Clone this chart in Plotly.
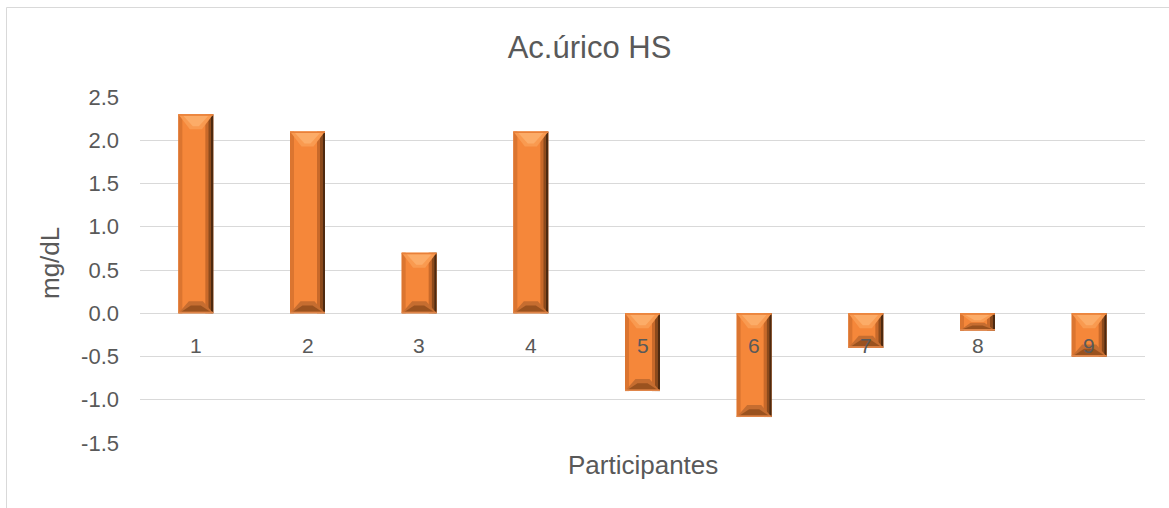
import plotly.graph_objects as go

# Data
labels = ["1", "2", "3", "4", "5", "6", "7", "8", "9"]
values = [2.3, 2.1, 0.7, 2.1, -0.9, -1.2, -0.4, -0.2, -0.5]
y_ticks = [-1.5, -1.0, -0.5, 0.0, 0.5, 1.0, 1.5, 2.0, 2.5]

# Layout geometry
W, H = 1169, 508
M_L, M_R, M_T, M_B = 140, 24, 97, 65
Y_MIN, Y_MAX = -1.5, 2.5
plot_w = W - M_L - M_R
plot_h = H - M_T - M_B
px_per_y = plot_h / (Y_MAX - Y_MIN)
px_per_x = plot_w / len(labels)
BAR_PX = 35
HALF = BAR_PX / 2

TEXT = "#595959"
GRID = "#D9D9D9"
FACE = "#F5873A"
FONT = "Liberation Sans, Arial"

xs = list(range(len(labels)))

fig = go.Figure(
    go.Bar(
        x=xs,
        y=values,
        width=BAR_PX / px_per_x,
        marker=dict(color=FACE, line=dict(width=0)),
        hoverinfo="x+y",
    )
)


def poly(xc, pts, color):
    """Filled polygon: x in pixels around the bar centre, y in data units."""
    d = "M " + " L ".join(f"{px},{py}" for px, py in pts) + " Z"
    return dict(
        type="path",
        xref="x", yref="y",
        xsizemode="pixel", xanchor=xc,
        path=d,
        fillcolor=color,
        line=dict(width=0),
        layer="above",
    )


# Bevelled look for each bar
shapes = []
for xc, v in zip(xs, values):
    top, bot = max(v, 0), min(v, 0)
    h_px = (top - bot) * px_per_y
    dt = min(15, h_px * 0.5) / px_per_y
    db = min(12, h_px * 0.45) / px_per_y
    e1 = 1.5 / px_per_y
    # side strips
    shapes.append(poly(xc, [(-HALF, top), (-HALF + 4, top), (-HALF + 4, bot), (-HALF, bot)], "#DB7530"))
    shapes.append(poly(xc, [(HALF - 8, top), (HALF - 5, top), (HALF - 5, bot), (HALF - 8, bot)], "#C8692A"))
    shapes.append(poly(xc, [(HALF - 5, top), (HALF - 2.5, top), (HALF - 2.5, bot), (HALF - 5, bot)], "#8C4A1C"))
    shapes.append(poly(xc, [(HALF - 2.5, top), (HALF, top), (HALF, bot), (HALF - 2.5, bot)], "#4E2A10"))
    # top bevel
    shapes.append(poly(xc, [(-HALF, top), (HALF, top), (6, top - dt), (-6, top - dt)], "#F99A50"))
    shapes.append(poly(xc, [(-HALF + 5, top - e1), (HALF - 5, top - e1), (3, top - dt * 0.8), (-3, top - dt * 0.8)], "#FCAC68"))
    shapes.append(poly(xc, [(-HALF, top), (HALF, top), (HALF, top - e1), (-HALF, top - e1)], "#E8803A"))
    # bottom bevel
    shapes.append(poly(xc, [(-HALF, bot), (HALF, bot), (7, bot + db), (-7, bot + db)], "#C66D30"))
    shapes.append(poly(xc, [(-HALF + 3, bot + e1), (HALF - 3, bot + e1), (5, bot + db * 0.65), (-5, bot + db * 0.65)], "#9A521F"))
    shapes.append(poly(xc, [(-HALF, bot), (HALF, bot), (HALF, bot + e1), (-HALF, bot + e1)], "#E0864A"))

# Chart frame (top and left edges)
fx = (6.5 - M_L) / plot_w
fy = (H - M_B - 7.5) / plot_h
shapes.append(dict(type="line", xref="paper", yref="paper", x0=fx, x1=(W - M_L) / plot_w, y0=fy, y1=fy,
                   line=dict(color=GRID, width=1), layer="below"))
shapes.append(dict(type="line", xref="paper", yref="paper", x0=fx, x1=fx, y0=fy, y1=-M_B / plot_h,
                   line=dict(color=GRID, width=1), layer="below"))

# Category labels sit just under the zero line
annotations = [
    dict(x=xc, y=0, xref="x", yref="y", text=lab, showarrow=False, yshift=-32,
         font=dict(family=FONT, size=21, color=TEXT))
    for xc, lab in zip(xs, labels)
]
annotations.append(dict(x=0.5, y=(H - M_B - 465) / plot_h, xref="paper", yref="paper",
                        text="Participantes", showarrow=False, xanchor="center", yanchor="middle",
                        font=dict(family=FONT, size=26, color=TEXT)))
annotations.append(dict(x=(50 - M_L) / plot_w, y=(H - M_B - 263) / plot_h, xref="paper", yref="paper",
                        text="mg/dL", showarrow=False, textangle=-90, xanchor="center", yanchor="middle",
                        font=dict(family=FONT, size=26, color=TEXT)))

fig.update_layout(
    width=W, height=H,
    margin=dict(l=M_L, r=M_R, t=M_T, b=M_B),
    paper_bgcolor="white", plot_bgcolor="white",
    showlegend=False,
    title=dict(text="Ac.úrico HS", x=589.5 / W, xanchor="center", y=1 - 47 / H, yanchor="middle",
               font=dict(family=FONT, size=31, color=TEXT)),
    xaxis=dict(range=[-0.5, len(labels) - 0.5], showticklabels=False, showgrid=False,
               zeroline=False, showline=False, ticks=""),
    yaxis=dict(range=[Y_MIN, Y_MAX], tickvals=y_ticks,
               ticktext=[f"{t:.1f}" for t in y_ticks],
               tickfont=dict(family=FONT, size=22, color=TEXT),
               showgrid=True, gridcolor=GRID, gridwidth=1,
               zeroline=True, zerolinecolor=GRID, zerolinewidth=1,
               showline=False, ticks="", ticklabelstandoff=20),
    shapes=shapes,
    annotations=annotations,
)

fig.write_html("out.html")
